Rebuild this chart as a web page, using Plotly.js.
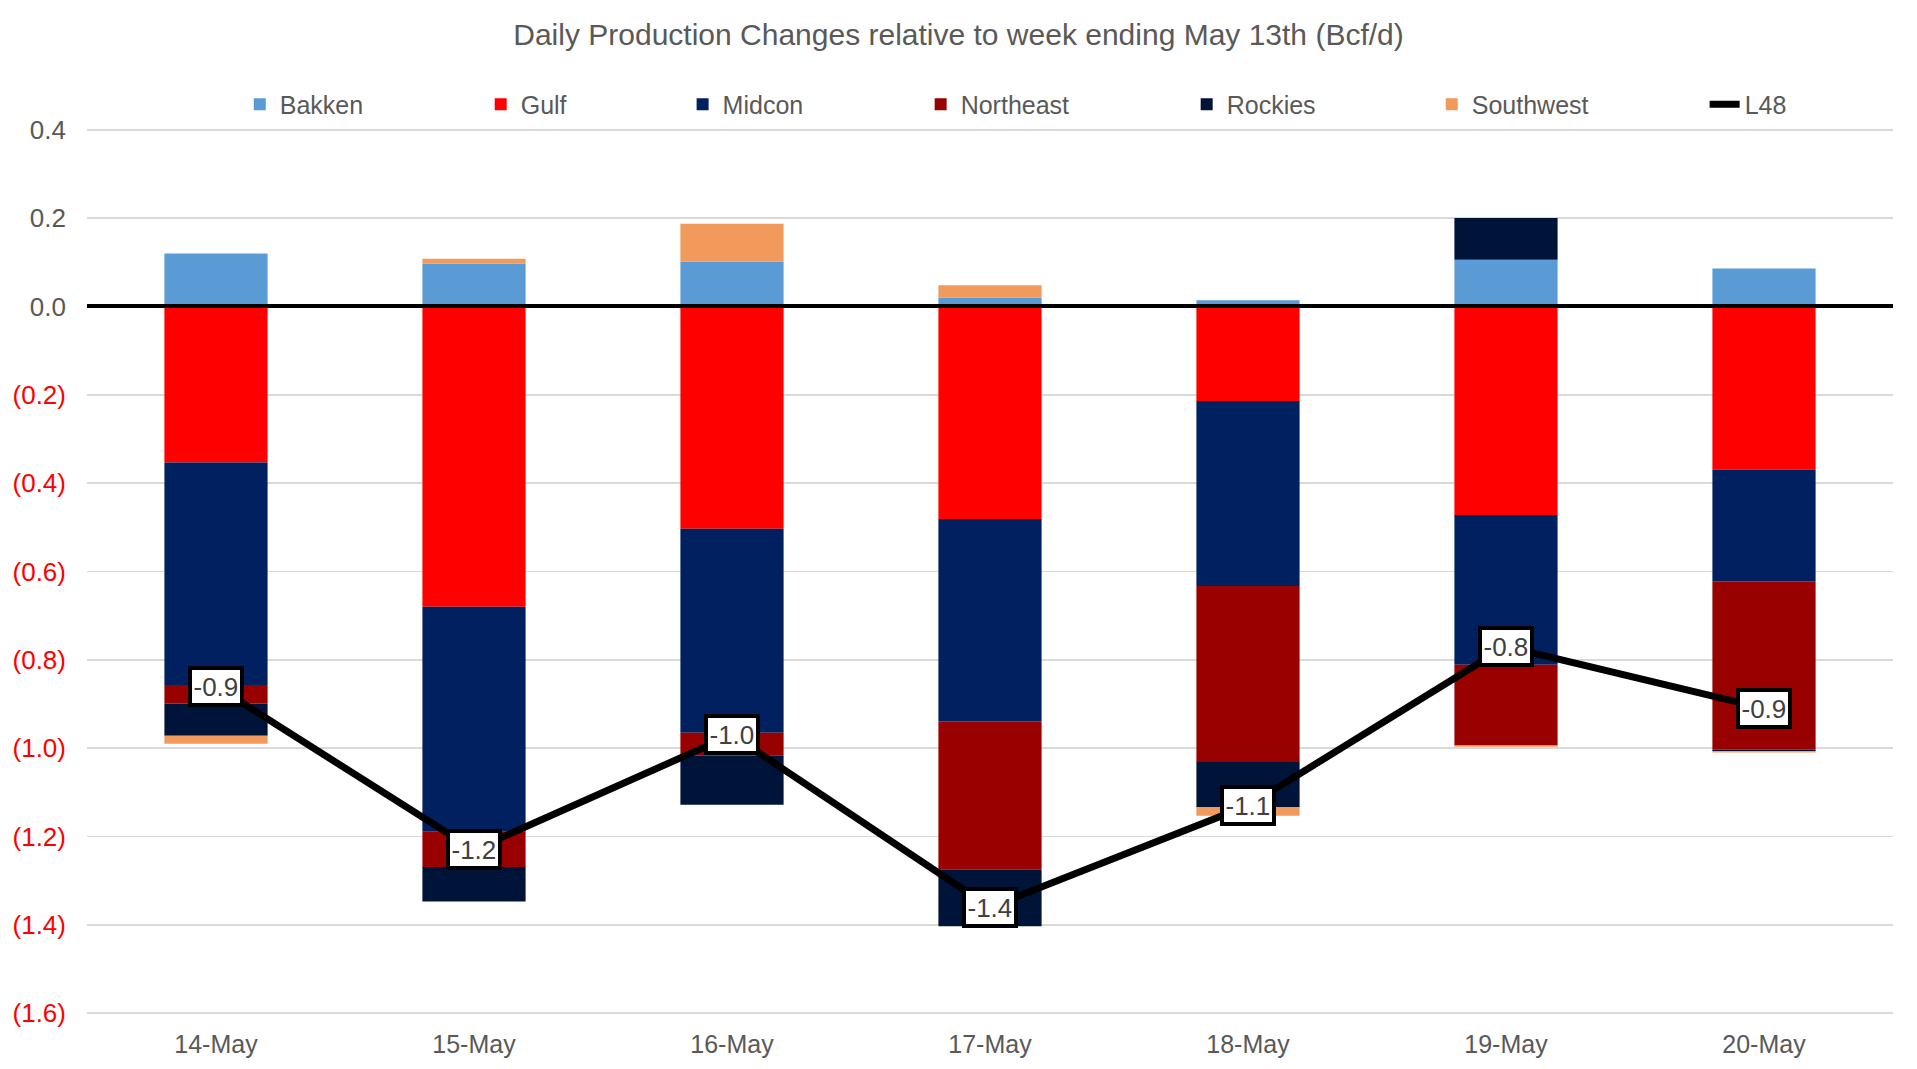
<!DOCTYPE html>
<html>
<head>
<meta charset="utf-8">
<script src="https://cdn.plot.ly/plotly-3.0.1.min.js"></script>
<style>html,body{margin:0;padding:0;background:#fff;}#chart{width:1917px;height:1069px;}</style>
</head>
<body>
<div id="chart"></div>
<script>
const categories = ["14-May", "15-May", "16-May", "17-May", "18-May", "19-May", "20-May"];
const bakken    = [0.12, 0.097, 0.102, 0.02, 0.014, 0.106, 0.086];
const gulf      = [-0.353, -0.68, -0.503, -0.481, -0.214, -0.472, -0.369];
const midcon    = [-0.504, -0.509, -0.462, -0.458, -0.419, -0.339, -0.253];
const northeast = [-0.042, -0.08, -0.052, -0.336, -0.398, -0.183, -0.381];
const rockies   = [-0.073, -0.078, -0.111, -0.128, -0.102, 0.094, -0.004];
const southwest = [-0.018, 0.011, 0.085, 0.028, -0.02, -0.003, -0.003];
const l48       = [-0.86, -1.23, -0.97, -1.36, -1.13, -0.77, -0.91];
const tickVals  = [0.4, 0.2, 0.0, -0.2, -0.4, -0.6, -0.8, -1.0, -1.2, -1.4, -1.6];
const tickText  = ["0.4", "0.2", "0.0", "(0.2)", "(0.4)", "(0.6)", "(0.8)", "(1.0)", "(1.2)", "(1.4)", "(1.6)"];

const FONT = "Liberation Sans, Arial, sans-serif";
const GRAY = "#595959";

function barTrace(name, vals, color, leg) {
  return {type: "bar", name: name, x: categories, y: vals, legend: leg,
          marker: {color: color, line: {width: 0}}, hoverinfo: "skip"};
}

const traces = [
  barTrace("Bakken", bakken, "#5B9BD5", "legend"),
  barTrace("Gulf", gulf, "#FF0000", "legend2"),
  barTrace("Midcon", midcon, "#002060", "legend3"),
  barTrace("Northeast", northeast, "#990000", "legend4"),
  barTrace("Rockies", rockies, "#00143A", "legend5"),
  barTrace("Southwest", southwest, "#F19A5C", "legend6"),
  {type: "scatter", mode: "lines", name: "L48", x: categories, y: l48, legend: "legend7",
   line: {color: "#000000", width: 7}, hoverinfo: "skip"}
];

const annotations = categories.map((c, i) => ({
  x: c, y: l48[i], xref: "x", yref: "y",
  text: (Math.round(l48[i] * 10) / 10).toFixed(1),
  showarrow: false, bgcolor: "#FFFFFF", bordercolor: "#000000", borderwidth: 4, borderpad: 1.5,
  font: {family: FONT, size: 26, color: "#404040"}
}));

function leg(x) {
  return {orientation: "h", x: x, xanchor: "left", y: 1.0265, yanchor: "middle",
          font: {family: FONT, size: 25, color: GRAY}, bgcolor: "rgba(0,0,0,0)"};
}

const layout = {
  width: 1917, height: 1069,
  paper_bgcolor: "#FFFFFF", plot_bgcolor: "#FFFFFF",
  margin: {l: 87, r: 24, t: 128, b: 54, autoexpand: false},
  barmode: "relative", bargap: 0.6,
  font: {family: FONT, size: 24, color: GRAY},
  title: {text: "Daily Production Changes relative to week ending May 13th (Bcf/d)",
          font: {family: FONT, size: 30, color: GRAY}, x: 0.5, xanchor: "center",
          y: 0.968, yanchor: "middle", yref: "container"},
  showlegend: true,
  legend: leg(0.0846), legend2: leg(0.2180), legend3: leg(0.3298), legend4: leg(0.4616),
  legend5: leg(0.6089), legend6: leg(0.7446), legend7: leg(0.8957),
  xaxis: {type: "category", showgrid: false, zeroline: false, showline: false, ticks: "",
          tickfont: {family: FONT, size: 25, color: GRAY}, ticklabelstandoff: 12, fixedrange: true},
  yaxis: {range: [-1.604, 0.404], tickvals: tickVals,
          ticktext: tickText.map(t => t.startsWith("(") ? "<span style='color:#FF0000'>" + t + "</span>" : t),
          tickfont: {family: FONT, size: 26, color: GRAY},
          showgrid: true, gridcolor: "#D9D9D9", gridwidth: 1.5,
          zeroline: true, zerolinecolor: "#000000", zerolinewidth: 4, zerolinelayer: "above traces",
          showline: false, ticks: "", ticklabelstandoff: 20, fixedrange: true},
  annotations: annotations
};

Plotly.newPlot("chart", traces, layout, {displayModeBar: false, staticPlot: true});
</script>
</body>
</html>
